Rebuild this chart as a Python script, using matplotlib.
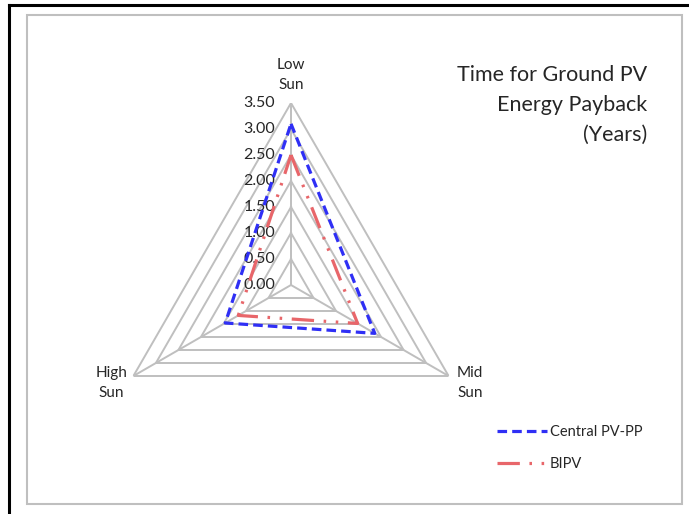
import numpy as np
import matplotlib
matplotlib.use("Agg")
import matplotlib.pyplot as plt
from matplotlib.lines import Line2D
from matplotlib.patches import Rectangle

categories = ["Low\nSun", "Mid\nSun", "High\nSun"]
central_pv = [3.10, 1.86, 1.46]
bipv = [2.50, 1.48, 1.17]
ticks = [0.0, 0.5, 1.0, 1.5, 2.0, 2.5, 3.0, 3.5]
tick_labels = ["0.00", "0.50", "1.00", "1.50", "2.00", "2.50", "3.00", "3.50"]
series_names = ["Central PV-PP", "BIPV"]
title = "Time for Ground PV\nEnergy Payback\n(Years)"

plt.rcParams['font.family'] = ['Lato', 'DejaVu Sans']

W, H = 689, 514
fig = plt.figure(figsize=(W / 100, H / 100), dpi=100)

# outer frame lines
fig.add_artist(Line2D([8.5 / W, 8.5 / W], [0, 1 - 5 / H], color='black', lw=2.2, transform=fig.transFigure))
fig.add_artist(Line2D([8.5 / W, 1], [1 - 5 / H, 1 - 5 / H], color='black', lw=2.2, transform=fig.transFigure))
# chart area border
fig.add_artist(Rectangle((27 / W, 1 - 504 / H), (682 - 27) / W, (504 - 15) / H, fill=False,
                         edgecolor='#BFBFBF', lw=1.5, transform=fig.transFigure))

cx, cy, R = 291, 285, 182
ax = fig.add_axes([(cx - R) / W, 1 - (cy + R) / H, 2 * R / W, 2 * R / H], projection='polar')
ax.set_theta_offset(np.pi / 2)
ax.set_theta_direction(-1)
ax.set_ylim(0, 3.5)
ax.grid(False)
ax.spines['polar'].set_visible(False)
ax.set_xticks([])
ax.set_yticks([])
ax.patch.set_alpha(0)

n = len(categories)
angles = [2 * np.pi * i / n for i in range(n)]
ang_closed = angles + angles[:1]

grid_c = '#BFBFBF'
for t in ticks[1:]:
    ax.plot(ang_closed, [t] * (n + 1), color=grid_c, lw=1.4, zorder=1)
for a in angles:
    ax.plot([a, a], [0, ticks[-1]], color=grid_c, lw=1.4, zorder=1)

blue = '#2F2FF5'
red = '#E8666A'
ax.plot(ang_closed, central_pv + central_pv[:1], color=blue, lw=2.3,
        linestyle=(0, (3, 1.6)), zorder=3)
ax.plot(ang_closed, bipv + bipv[:1], color=red, lw=2.3,
        linestyle=(0, (7, 3, 0.8, 3, 0.8, 3)), zorder=3)

for t, lab in zip(ticks, tick_labels):
    ax.annotate(lab, xy=(0, t), xytext=(-11.5, 0), textcoords='offset points',
                ha='right', va='center', fontsize=11.5, color='#262626', zorder=2)

# category labels
ax.annotate(categories[0], xy=(angles[0], 3.5), xytext=(0, 8), textcoords='offset points',
            ha='center', va='bottom', fontsize=11, linespacing=1.55, color='#262626')
ax.annotate(categories[1], xy=(angles[1], 3.5), xytext=(15.5, -5), textcoords='offset points',
            ha='center', va='center', fontsize=11, linespacing=1.55, color='#262626')
ax.annotate(categories[2], xy=(angles[2], 3.5), xytext=(-16, -5), textcoords='offset points',
            ha='center', va='center', fontsize=11, linespacing=1.55, color='#262626')

fig.text(647 / W, 1 - 65 / H, title, ha='right', va='top', fontsize=15.5,
         linespacing=1.62, color='#262626')

handles = [Line2D([], [], color=blue, lw=2.3, linestyle=(0, (3, 1.6))),
           Line2D([], [], color=red, lw=2.3, linestyle=(0, (7, 3, 0.8, 3, 0.8, 3)))]
fig.legend(handles, series_names, loc='center left', bbox_to_anchor=(484 / W, 1 - 448 / H),
           frameon=False, fontsize=10.5, handlelength=3.4, handletextpad=0.2,
           labelspacing=1.2, labelcolor='#262626')

fig.savefig('out.png', dpi=100)
